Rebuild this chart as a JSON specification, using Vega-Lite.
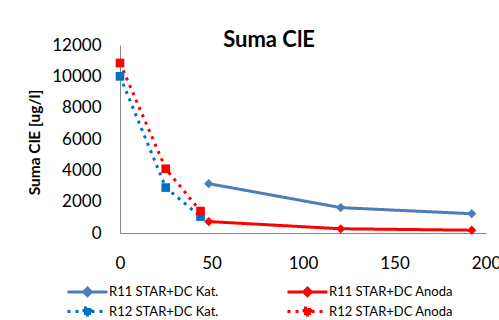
{
  "$schema": "https://vega.github.io/schema/vega-lite/v6.json",
  "autosize": "none",
  "width": 366,
  "height": 188,
  "padding": {"left": 120, "top": 45, "right": 13, "bottom": 87},
  "background": "white",
  "config": {"font": "Lato", "view": {"stroke": null}},
  "title": {"text": "Suma ClE", "font": "Lato", "fontSize": 22, "fontWeight": "bold", "color": "#000000", "anchor": "middle", "frame": "group", "dx": -34, "baseline": "alphabetic", "offset": 0, "dy": 33},
  "data": {"values": [
    {"series": "R11 STAR+DC Kat.", "x": 48.5, "y": 3150},
    {"series": "R11 STAR+DC Kat.", "x": 120.6, "y": 1620},
    {"series": "R11 STAR+DC Kat.", "x": 192.2, "y": 1230},
    {"series": "R11 STAR+DC Anoda", "x": 48.5, "y": 730},
    {"series": "R11 STAR+DC Anoda", "x": 120.6, "y": 270},
    {"series": "R11 STAR+DC Anoda", "x": 192.2, "y": 180},
    {"series": "R12 STAR+DC Kat.", "x": 0, "y": 10000},
    {"series": "R12 STAR+DC Kat.", "x": 25, "y": 2900},
    {"series": "R12 STAR+DC Kat.", "x": 44, "y": 1050},
    {"series": "R12 STAR+DC Anoda", "x": 0, "y": 10850},
    {"series": "R12 STAR+DC Anoda", "x": 25, "y": 4100},
    {"series": "R12 STAR+DC Anoda", "x": 44, "y": 1400}
  ]},
  "encoding": {
    "x": {"field": "x", "type": "quantitative", "scale": {"domain": [0, 200], "nice": false, "zero": false},
      "axis": {"title": null, "values": [0, 50, 100, 150, 200], "grid": false, "ticks": false, "tickSize": 0, "labelPadding": 22, "labelFontSize": 17, "labelFont": "Lato", "labelColor": "#000000", "domainColor": "#868686", "domainWidth": 1, "labelFlush": false}},
    "y": {"field": "y", "type": "quantitative", "scale": {"domain": [0, 12000], "nice": false},
      "axis": {"title": "Suma ClE [ug/l]", "titleFont": "Lato", "titleFontSize": 15.5, "titleFontWeight": "bold", "titleColor": "#000000", "titlePadding": 9, "titleY": 97, "values": [0, 2000, 4000, 6000, 8000, 10000, 12000], "format": "d", "grid": false, "ticks": false, "tickSize": 0, "labelPadding": 19, "labelFontSize": 17, "labelFont": "Lato", "labelColor": "#000000", "domainColor": "#868686", "domainWidth": 1}},
    "color": {"field": "series", "type": "nominal",
      "scale": {"domain": ["R11 STAR+DC Kat.", "R12 STAR+DC Kat.", "R11 STAR+DC Anoda", "R12 STAR+DC Anoda"], "range": ["#4A7EBB", "#0070C0", "#FF0000", "#FF0000"]},
      "legend": {"title": null, "orient": "none", "legendX": -39, "legendY": 240, "columns": 2, "columnPadding": 62, "rowPadding": 0, "padding": 0,
        "labelFont": "Lato", "labelFontSize": 13, "labelColor": "#000000", "labelOffset": 15, "symbolSize": 100, "symbolStrokeWidth": 3,
        "encode": {"symbols": {"update": {
          "shape": {"signal": "indexof(datum.value, 'R11') >= 0 ? 'M-4,0H4M0,-0.75L0.75,0L0,0.75L-0.75,0Z' : 'M-4,0H4M-0.7,-0.7H0.7V0.7H-0.7Z'"},
          "fill": {"signal": "scale('color', datum.value)"}
        }}}}
    }
  },
  "layer": [
    {"mark": {"type": "line", "strokeWidth": 3},
     "encoding": {"strokeDash": {"field": "series", "type": "nominal",
       "scale": {"domain": ["R11 STAR+DC Kat.", "R12 STAR+DC Kat.", "R11 STAR+DC Anoda", "R12 STAR+DC Anoda"], "range": [[1, 0], [3, 5], [1, 0], [3, 5]]}}}},
    {"transform": [{"filter": "indexof(datum.series, 'R11') >= 0"}],
     "mark": {"type": "point", "filled": true, "size": 85, "opacity": 1, "shape": "diamond"}},
    {"transform": [{"filter": "indexof(datum.series, 'R12') >= 0"}],
     "mark": {"type": "point", "filled": true, "size": 75, "opacity": 1, "shape": "square"}}
  ]
}
